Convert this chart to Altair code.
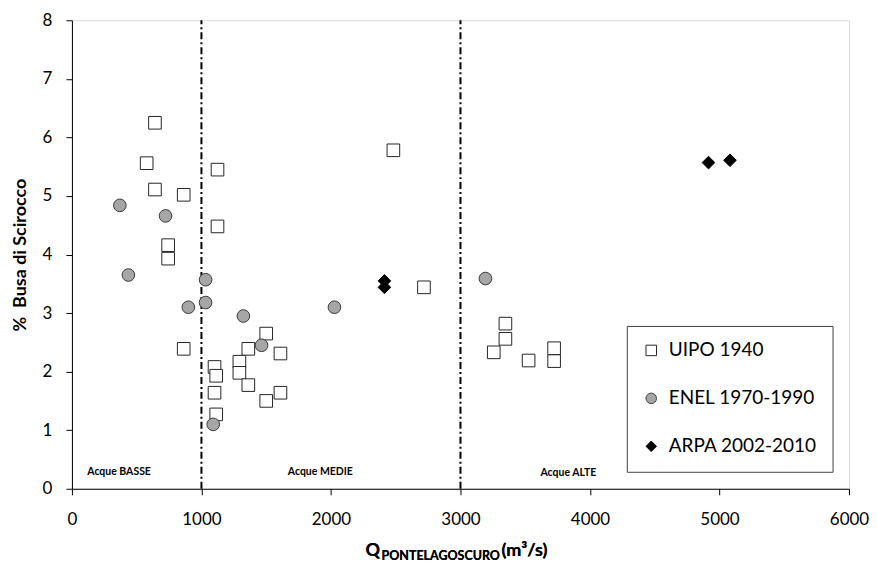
import altair as alt
import pandas as pd

series_names = ["UIPO 1940", "ENEL 1970-1990", "ARPA 2002-2010"]

uipo_q = [641, 577, 641, 863, 1124, 1124, 743, 743, 863, 1101, 1114, 1101, 1114,
          1293, 1293, 1362, 1362, 1500, 1610, 1500, 1610, 2482, 2718,
          3347, 3347, 3257, 3526, 3723, 3723]
uipo_pct = [6.25, 5.56, 5.11, 5.02, 5.45, 4.48, 4.16, 3.93, 2.39, 2.08, 1.93, 1.64, 1.27,
            2.17, 1.98, 2.39, 1.77, 2.65, 2.31, 1.50, 1.64, 5.78, 3.44,
            2.82, 2.56, 2.33, 2.19, 2.40, 2.18]
enel_q = [370, 723, 436, 1032, 1032, 899, 1324, 1464, 1091, 2027, 3193]
enel_pct = [4.84, 4.66, 3.65, 3.57, 3.18, 3.10, 2.95, 2.45, 1.10, 3.10, 3.59]
arpa_q = [4915, 5081, 2413, 2413]
arpa_pct = [5.57, 5.61, 3.55, 3.44]

zone_limits = [1000, 3000]
zone_labels = ["Acque BASSE", "Acque MEDIE", "Acque ALTE"]
zone_label_q = [364, 1918, 3833]
zone_label_pct = [0.29, 0.29, 0.27]

x_ticks = [0, 1000, 2000, 3000, 4000, 5000, 6000]
y_ticks = [0, 1, 2, 3, 4, 5, 6, 7, 8]

rows = []
for name, qs, ps in zip(series_names, [uipo_q, enel_q, arpa_q], [uipo_pct, enel_pct, arpa_pct]):
    for q, p in zip(qs, ps):
        rows.append({"series": name, "q": q, "pct": p})
df = pd.DataFrame(rows)
zones = pd.DataFrame({"q": zone_limits})
zone_text = pd.DataFrame({"label": zone_labels, "q": zone_label_q, "pct": zone_label_pct})

W, H = 778, 469
FONT = "Lato"

xscale = alt.Scale(domain=[0, 6000], nice=False)
yscale = alt.Scale(domain=[0, 8], nice=False)

xaxis = alt.Axis(values=x_ticks, format="d", title=None, grid=False, tickSize=6, labelPadding=17,
                 labelFont=FONT, labelFontSize=17, labelColor="black",
                 domainColor="black", tickColor="black", labelFlush=False)
yaxis = alt.Axis(values=y_ticks, format="d", title="%\u00a0 Busa di Scirocco", grid=False, tickSize=6,
                 labelPadding=14, labelFont=FONT, labelFontSize=17, labelColor="black",
                 domainColor="black", tickColor="black", titleFont=FONT, titleFontSize=18,
                 titleFontWeight="bold", titleColor="black", titlePadding=13)

legend = alt.Legend(orient="none", legendX=555.5, legendY=306, strokeColor="#404040",
                    fillColor="white", padding=15, rowPadding=28, labelFont=FONT,
                    labelFontSize=19, labelColor="black", symbolSize=110,
                    symbolStrokeWidth=1, labelOffset=8)

rules = alt.Chart(zones).mark_rule(color="black", strokeWidth=2, strokeDash=[7, 3, 2, 3]).encode(
    x=alt.X("q:Q", scale=xscale, axis=xaxis),
    y=alt.datum(0, scale=yscale),
    y2=alt.datum(8),
)

points = alt.Chart(df).mark_point(filled=True, strokeWidth=1, opacity=1, size=160).encode(
    x=alt.X("q:Q", scale=xscale, axis=xaxis),
    y=alt.Y("pct:Q", scale=yscale, axis=yaxis),
    shape=alt.Shape("series:N", title=None, legend=legend,
                    scale=alt.Scale(domain=series_names, range=["square", "circle", "diamond"])),
    fill=alt.Fill("series:N", title=None, legend=legend,
                  scale=alt.Scale(domain=series_names, range=["white", "#a6a6a6", "black"])),
    stroke=alt.Stroke("series:N", title=None, legend=legend,
                      scale=alt.Scale(domain=series_names, range=["#262626", "#3a3a3a", "black"])),
)

labels = alt.Chart(zone_text).mark_text(font=FONT, fontWeight="bold", fontSize=10.5, color="black").encode(
    x=alt.X("q:Q", scale=xscale),
    y=alt.Y("pct:Q", scale=yscale),
    text="label:N",
)

t_q = alt.Chart(zones).mark_text(text="Q", font=FONT, fontWeight="bold", fontSize=18, align="left",
                                 baseline="alphabetic", color="black").encode(
    x=alt.value(294), y=alt.value(536))
t_sub = alt.Chart(zones).mark_text(text="PONTELAGOSCURO", font=FONT, fontWeight="bold", fontSize=12.5,
                                   align="left", baseline="alphabetic", color="black").encode(
    x=alt.value(310), y=alt.value(540))
t_unit = alt.Chart(zones).mark_text(text="(m\u00b3/s)", font=FONT, fontWeight="bold", fontSize=18,
                                    align="left", baseline="alphabetic", color="black").encode(
    x=alt.value(430), y=alt.value(536))

chart = alt.layer(rules, points, labels, t_q, t_sub, t_unit).properties(
    width=W, height=H,
    padding={"left": 3, "top": 3, "right": 0, "bottom": 0},
).configure_view(stroke="#868686", strokeWidth=1).configure(background="white")

chart.save("out.html", embed_options={"renderer": "svg", "actions": False})
